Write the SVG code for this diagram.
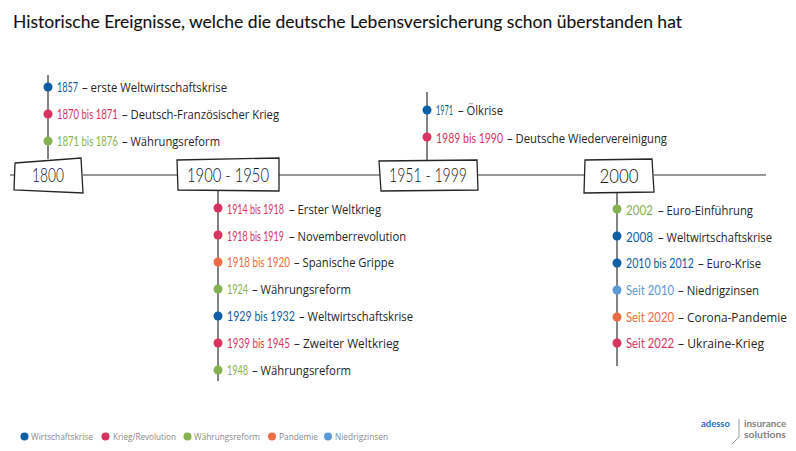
<svg xmlns="http://www.w3.org/2000/svg" width="796" height="451" viewBox="0 0 796 451">
<style>
text{font-family:"Open Sans","Liberation Sans",sans-serif;font-size:12px;fill:#262626;}
.t{font-family:"Lato","Open Sans",sans-serif;font-size:17px;fill:#111;stroke:#111;stroke-width:.1}
.y{font-family:"Lato","Open Sans",sans-serif;font-size:14px}
.h{font-family:"Lato","Open Sans",sans-serif;font-size:20px;font-weight:300;fill:#111;text-anchor:middle}
.b{fill:#fff;stroke:#262626;stroke-width:1.3}
.l{fill:none;stroke:#333;stroke-width:1.2}
.lg{font-size:9.5px;fill:#8a8a8a}
.lo{font-family:"Lato","Open Sans",sans-serif;font-size:9px;fill:#7f7f7f;font-weight:700}
.w{fill:#0f5fa6}.k{fill:#d9345f}.r{fill:#86b352}.p{fill:#ee6c45}.n{fill:#5b9bd5}
</style>
<rect width="796" height="451" fill="#fff"/>
<text class="t" x="13" y="28" textLength="669" lengthAdjust="spacingAndGlyphs">Historische Ereignisse, welche die deutsche Lebensversicherung schon überstanden hat</text>
<g id="connectors">
<path class="l" d="M10 175H14M83 175H178M279 175H380M478 175H585M654 175H766"/>
<path class="l" d="M48 75V159M218 191V381M427 92V161M617 193V366"/>
</g>
<g id="n1800">
<path class="b" d="M15 163L81 158L83 193L14 190Z"/>
<text class="h" x="48" y="182" textLength="32" lengthAdjust="spacingAndGlyphs">1800</text>
<circle class="w" cx="48" cy="87" r="4.500"/><text class="y w" transform="translate(57 92) scale(.646 1)">1857</text><text x="82" y="92" textLength="145" lengthAdjust="spacingAndGlyphs">– erste Weltwirtschaftskrise</text>
<circle class="k" cx="48" cy="114" r="4.500"/><text class="y k" transform="translate(57 119) scale(.68 1)">1870 bis 1871</text><text x="122" y="119" textLength="157" lengthAdjust="spacingAndGlyphs">– Deutsch-Französischer Krieg</text>
<circle class="r" cx="48" cy="141" r="4.500"/><text class="y r" transform="translate(57 146) scale(.68 1)">1871 bis 1876</text><text x="122" y="146" textLength="98" lengthAdjust="spacingAndGlyphs">– Währungsreform</text>
</g>
<g id="n1900">
<path class="b" d="M177 160L279 158L279 191L178 190Z"/>
<text class="h" x="228" y="182" textLength="82" lengthAdjust="spacingAndGlyphs">1900 - 1950</text>
<circle class="k" cx="218" cy="208" r="4.500"/><text class="y k" transform="translate(227 214) scale(.636 1)">1914 bis 1918</text><text x="289" y="214" textLength="92" lengthAdjust="spacingAndGlyphs">– Erster Weltkrieg</text>
<circle class="k" cx="218" cy="235" r="4.500"/><text class="y k" transform="translate(227 241) scale(.636 1)">1918 bis 1919</text><text x="289" y="241" textLength="117" lengthAdjust="spacingAndGlyphs">– Novemberrevolution</text>
<circle class="p" cx="218" cy="262" r="4.500"/><text class="y p" transform="translate(227 267) scale(.705 1)">1918 bis 1920</text><text x="294" y="267" textLength="100" lengthAdjust="spacingAndGlyphs">– Spanische Grippe</text>
<circle class="r" cx="218" cy="289" r="4.500"/><text class="y r" transform="translate(227 294) scale(.646 1)">1924</text><text x="252" y="294" textLength="99" lengthAdjust="spacingAndGlyphs">– Währungsreform</text>
<circle class="w" cx="218" cy="316" r="4.500"/><text class="y w" transform="translate(227 321) scale(.76 1)">1929 bis 1932</text><text x="299" y="321" textLength="114" lengthAdjust="spacingAndGlyphs">– Weltwirtschaftskrise</text>
<circle class="k" cx="218" cy="343" r="4.500"/><text class="y k" transform="translate(227 348) scale(.705 1)">1939 bis 1945</text><text x="294" y="348" textLength="105" lengthAdjust="spacingAndGlyphs">– Zweiter Weltkrieg</text>
<circle class="r" cx="218" cy="370" r="4.500"/><text class="y r" transform="translate(227 375) scale(.646 1)">1948</text><text x="252" y="375" textLength="99" lengthAdjust="spacingAndGlyphs">– Währungsreform</text>
</g>
<g id="n1951">
<path class="b" d="M379 161L477 160L478 190L381 191Z"/>
<text class="h" x="428" y="182" textLength="78" lengthAdjust="spacingAndGlyphs">1951 - 1999</text>
<circle class="w" cx="427" cy="110" r="4.500"/><text class="y w" transform="translate(436 115) scale(.52 1)">1971</text><text x="458" y="115" textLength="45" lengthAdjust="spacingAndGlyphs">– Ölkrise</text>
<circle class="k" cx="427" cy="137" r="4.500"/><text class="y k" transform="translate(436 143) scale(.75 1)">1989 bis 1990</text><text x="507" y="143" textLength="160" lengthAdjust="spacingAndGlyphs">– Deutsche Wiedervereinigung</text>
</g>
<g id="n2000">
<path class="b" d="M585 160L652 159L654 192L584 193Z"/>
<text class="h" x="619" y="183" textLength="39" lengthAdjust="spacingAndGlyphs">2000</text>
<circle class="r" cx="617" cy="209" r="4.500"/><text class="y r" transform="translate(626 215) scale(.83 1)">2002</text><text x="658" y="215" textLength="95" lengthAdjust="spacingAndGlyphs">– Euro-Einführung</text>
<circle class="w" cx="617" cy="236" r="4.500"/><text class="y w" transform="translate(626 242) scale(.83 1)">2008</text><text x="658" y="242" textLength="114" lengthAdjust="spacingAndGlyphs">– Weltwirtschaftskrise</text>
<circle class="w" cx="617" cy="263" r="4.500"/><text class="y w" transform="translate(626 268) scale(.76 1)">2010 bis 2012</text><text x="698" y="268" textLength="63" lengthAdjust="spacingAndGlyphs">– Euro-Krise</text>
<circle class="n" cx="617" cy="290" r="4.500"/><text class="y n" transform="translate(626 295) scale(.81 1)">Seit 2010</text><text x="678" y="295" textLength="81" lengthAdjust="spacingAndGlyphs">– Niedrigzinsen</text>
<circle class="p" cx="617" cy="317" r="4.500"/><text class="y p" transform="translate(626 322) scale(.81 1)">Seit 2020</text><text x="678" y="322" textLength="109" lengthAdjust="spacingAndGlyphs">– Corona-Pandemie</text>
<circle class="k" cx="617" cy="343" r="4.500"/><text class="y k" transform="translate(626 348) scale(.81 1)">Seit 2022</text><text x="678" y="348" textLength="86" lengthAdjust="spacingAndGlyphs">– Ukraine-Krieg</text>
</g>
<g id="legend">
<circle class="w" cx="24.500" cy="436.500" r="4"/><text class="lg" x="31" y="440" textLength="62" lengthAdjust="spacingAndGlyphs">Wirtschaftskrise</text>
<circle class="k" cx="105.500" cy="436.500" r="4"/><text class="lg" x="113" y="440" textLength="63" lengthAdjust="spacingAndGlyphs">Krieg/Revolution</text>
<circle class="r" cx="187.500" cy="436.500" r="4"/><text class="lg" x="194" y="440" textLength="66" lengthAdjust="spacingAndGlyphs">Währungsreform</text>
<circle class="p" cx="272" cy="436.500" r="4"/><text class="lg" x="279" y="440" textLength="39" lengthAdjust="spacingAndGlyphs">Pandemie</text>
<circle class="n" cx="328" cy="436.500" r="4"/><text class="lg" x="335" y="440" textLength="53" lengthAdjust="spacingAndGlyphs">Niedrigzinsen</text>
</g>
<g id="logo">
<text class="lo" transform="translate(701 427) scale(1.05 1)" style="fill:#1f6fb5">adesso</text>
<path d="M739 419V437L732 444" fill="none" stroke="#9a9a9a" stroke-width="1"/>
<text class="lo" transform="translate(744 427) scale(1.1 1)">insurance</text>
<text class="lo" transform="translate(744 438) scale(1.15 1)">solutions</text>
</g>
</svg>
